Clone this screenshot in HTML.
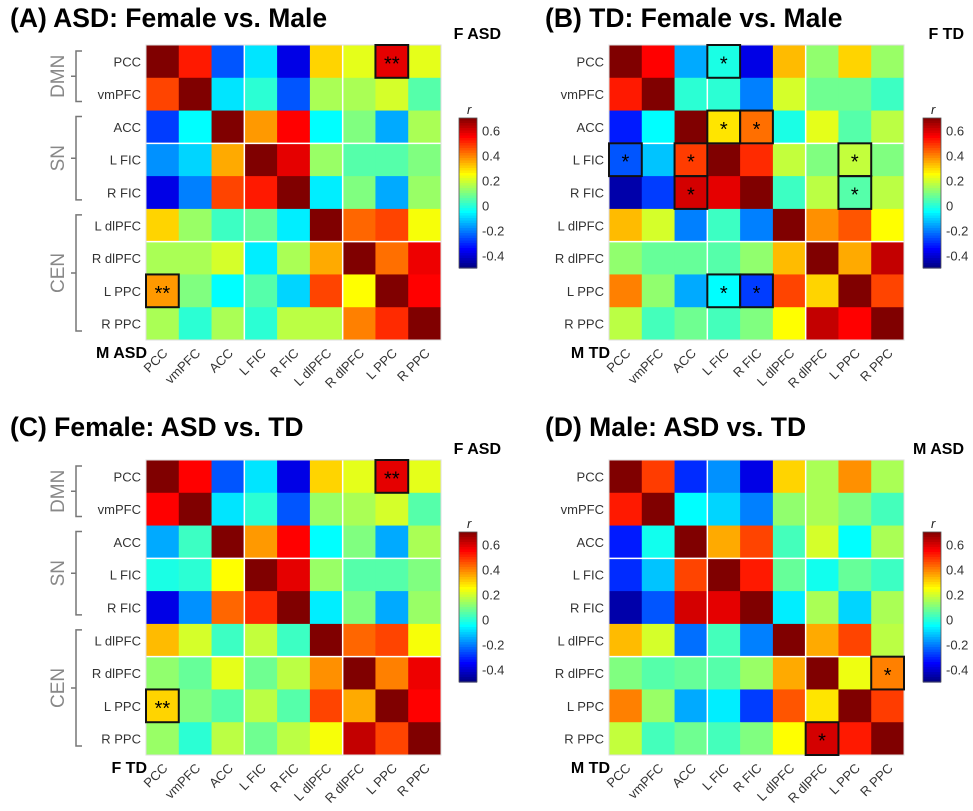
<!DOCTYPE html>
<html><head><meta charset="utf-8">
<style>
html,body{margin:0;padding:0;background:#fff;}
svg{display:block;font-family:"Liberation Sans",Arial,sans-serif;}
</style></head>
<body>
<svg id="fig" width="973" height="811" viewBox="0 0 973 811" xmlns="http://www.w3.org/2000/svg"></svg>
<script>
const regions = ["PCC","vmPFC","ACC","L FIC","R FIC","L dlPFC","R dlPFC","L PPC","R PPC"];
const cbTicks = [0.6,0.4,0.2,0,-0.2,-0.4];
const matA = [
 [0.7,0.52,-0.25,-0.08,-0.38,0.3,0.22,0.58,0.22],
 [0.47,0.7,-0.08,0.0,-0.25,0.15,0.15,0.2,0.05],
 [-0.28,-0.05,0.7,0.37,0.55,-0.05,0.1,-0.15,0.15],
 [-0.18,-0.1,0.35,0.7,0.58,0.13,0.05,0.05,0.1],
 [-0.38,-0.2,0.47,0.52,0.7,-0.07,0.1,-0.15,0.13],
 [0.3,0.13,0.02,0.07,-0.07,0.7,0.43,0.47,0.24],
 [0.15,0.15,0.2,-0.07,0.15,0.35,0.7,0.42,0.57],
 [0.37,0.1,-0.05,0.05,-0.1,0.47,0.25,0.7,0.55],
 [0.15,0.0,0.15,0.0,0.17,0.17,0.4,0.5,0.7]];
const matB = [
 [0.7,0.55,-0.15,-0.02,-0.38,0.33,0.12,0.3,0.13],
 [0.52,0.7,0.0,0.0,-0.2,0.2,0.08,0.08,0.02],
 [-0.32,-0.05,0.7,0.28,0.42,-0.02,0.22,0.05,0.17],
 [-0.25,-0.12,0.48,0.7,0.5,0.18,0.1,0.18,0.1],
 [-0.45,-0.28,0.6,0.58,0.7,0.02,0.17,0.05,0.17],
 [0.33,0.2,-0.2,0.02,-0.2,0.7,0.38,0.45,0.25],
 [0.12,0.07,0.07,0.05,0.12,0.33,0.7,0.35,0.62],
 [0.4,0.12,-0.15,-0.05,-0.28,0.47,0.3,0.7,0.47],
 [0.17,0.03,0.08,0.03,0.1,0.25,0.62,0.55,0.7]];
const matC = [
 [0.7,0.55,-0.25,-0.08,-0.38,0.3,0.22,0.58,0.22],
 [0.55,0.7,-0.08,0.0,-0.25,0.13,0.15,0.2,0.05],
 [-0.15,0.02,0.7,0.37,0.55,-0.05,0.1,-0.15,0.15],
 [-0.02,0.0,0.25,0.7,0.58,0.13,0.05,0.05,0.1],
 [-0.38,-0.18,0.43,0.5,0.7,-0.07,0.1,-0.15,0.13],
 [0.33,0.2,0.02,0.18,0.02,0.7,0.43,0.47,0.24],
 [0.12,0.07,0.22,0.08,0.17,0.38,0.7,0.4,0.57],
 [0.3,0.1,0.05,0.17,0.05,0.47,0.35,0.7,0.55],
 [0.13,0.0,0.17,0.08,0.17,0.24,0.62,0.47,0.7]];
const matD = [
 [0.7,0.48,-0.3,-0.18,-0.38,0.3,0.15,0.38,0.15],
 [0.52,0.7,-0.05,-0.1,-0.2,0.12,0.15,0.1,0.03],
 [-0.32,-0.03,0.7,0.35,0.47,0.03,0.2,-0.05,0.15],
 [-0.3,-0.12,0.47,0.7,0.52,0.07,-0.03,0.07,0.02],
 [-0.45,-0.25,0.6,0.58,0.7,-0.07,0.15,-0.1,0.15],
 [0.33,0.2,-0.22,0.03,-0.2,0.7,0.35,0.47,0.17],
 [0.1,0.05,0.07,0.05,0.13,0.35,0.7,0.23,0.4],
 [0.4,0.13,-0.15,-0.07,-0.28,0.45,0.28,0.7,0.48],
 [0.18,0.03,0.08,0.03,0.1,0.25,0.6,0.52,0.7]];
const sigA = [[0,7,"**"],[7,0,"**"]];
const sigB = [[0,3,"*"],[2,3,"*"],[2,4,"*"],[3,0,"*"],[3,2,"*"],[3,7,"*"],[4,2,"*"],[4,7,"*"],[7,3,"*"],[7,4,"*"]];
const sigC = [[0,7,"**"],[7,0,"**"]];
const sigD = [[6,8,"*"],[8,6,"*"]];

const NS="http://www.w3.org/2000/svg";
const svg=document.getElementById('fig');
const VMIN=-0.5, VMAX=0.7;
function jet(v){
  let t=(v-VMIN)/(VMAX-VMIN); t=Math.max(0,Math.min(1,t));
  const c=x=>Math.round(255*Math.max(0,Math.min(1,x)));
  return `rgb(${c(1.5-Math.abs(4*t-3))},${c(1.5-Math.abs(4*t-2))},${c(1.5-Math.abs(4*t-1))})`;
}
function el(tag,attrs,parent,text){
  const e=document.createElementNS(NS,tag);
  for(const k in attrs) e.setAttribute(k,attrs[k]);
  if(text!==undefined) e.textContent=text;
  (parent||svg).appendChild(e); return e;
}
function panel(id,title,tx,ty,gx,gy,mat,sig,topLbl,botLbl,brackets,cbx,cby){
  const g=el('g',{});
  
  
  const W=295, H=295, n=9, cw=W/n, ch=H/n;
  const t=el('text',{x:tx,y:ty,'font-size':26.5,'font-weight':'bold',fill:'#000'},g,title);
  
  
  for(let i=0;i<n;i++)for(let j=0;j<n;j++){
    const r=el('rect',{x:gx+j*cw,y:gy+i*ch,width:cw+0.5,height:ch+0.5,fill:jet(mat[i][j])},g);
    
    
  }
  [3,6].forEach(k=>{
    el('line',{x1:gx+k*cw,y1:gy,x2:gx+k*cw,y2:gy+H,stroke:'#fff','stroke-width':1.5},g);
    el('line',{x1:gx,y1:gy+k*ch,x2:gx+W,y2:gy+k*ch,stroke:'#fff','stroke-width':1.5},g);
  });
  el('rect',{x:gx,y:gy,width:W,height:H,fill:'none',stroke:'#ddd','stroke-width':1},g);
  sig.forEach(s=>{
    const b=el('rect',{x:gx+s[1]*cw,y:gy+s[0]*ch,width:cw,height:ch,fill:'none',stroke:'#111','stroke-width':2},g);
    
    
    el('text',{x:gx+(s[1]+0.5)*cw,y:gy+(s[0]+0.5)*ch+9,'font-size':20,'text-anchor':'middle',fill:'#000'},g,s[2]);
  });
  regions.forEach((r,i)=>{
    const yl=el('text',{x:gx-5,y:gy+(i+0.5)*ch+5,'font-size':13,'text-anchor':'end',fill:'#333'},g,r);
    
    
    const cx=gx+(i+0.5)*cw+6, cy=gy+H+14;
    const xl=el('text',{x:cx,y:cy,'font-size':13,'text-anchor':'end',fill:'#333',transform:`rotate(-45 ${cx} ${cy})`},g,r);
    
    
  });
  const tl=el('text',{x:gx+W+60,y:gy-6,'font-size':16,'font-weight':'bold','text-anchor':'end',fill:'#000'},g,topLbl);
  
  
  const bl=el('text',{x:gx+1,y:gy+H+18,'font-size':16,'font-weight':'bold','text-anchor':'end',fill:'#000'},g,botLbl);
  
  
  if(brackets){
    [["DMN",0,2],["SN",2,5],["CEN",5,9]].forEach(b=>{
      const y1=gy+b[1]*ch+6, y2=gy+b[2]*ch-9, x=76, ym=(y1+y2)/2;
      el('path',{d:`M82 ${y1} H${x} V${y2} H82 M${x} ${ym} H71`,fill:'none',stroke:'#777','stroke-width':1.5},g);
      const gl=el('text',{x:64,y:ym,'font-size':19,'text-anchor':'middle',fill:'#888',transform:`rotate(-90 64 ${ym})`},g,b[0]);
      
      
    });
  }
  const cb=el('g',{},g);
  
  
  const cbh=150, steps=60;
  for(let k=0;k<steps;k++){
    const v=VMAX-(k+0.5)/steps*(VMAX-VMIN);
    el('rect',{x:cbx,y:cby+k*cbh/steps,width:18,height:cbh/steps+0.6,fill:jet(v)},cb);
  }
  el('rect',{x:cbx,y:cby,width:18,height:cbh,fill:'none',stroke:'#555','stroke-width':0.8},cb);
  el('text',{x:cbx+8,y:cby-4,'font-size':13,'font-style':'italic',fill:'#222'},cb,'r');
  cbTicks.forEach(v=>{
    const y=cby+(VMAX-v)/(VMAX-VMIN)*cbh;
    el('text',{x:cbx+23,y:y+5,'font-size':13,fill:'#333'},cb,String(v));
  });
}
panel('a','(A) ASD: Female vs. Male',10,27,146,45,matA,sigA,'F ASD','M ASD',true,459,118);
panel('b','(B) TD: Female vs. Male',545,27,609,45,matB,sigB,'F TD','M TD',false,923,118);
panel('c','(C) Female: ASD vs. TD',10,436,146,460,matC,sigC,'F ASD','F TD',true,459,532);
panel('d','(D) Male: ASD vs. TD',545,436,609,460,matD,sigD,'M ASD','M TD',false,923,532);
</script>
</body></html>
